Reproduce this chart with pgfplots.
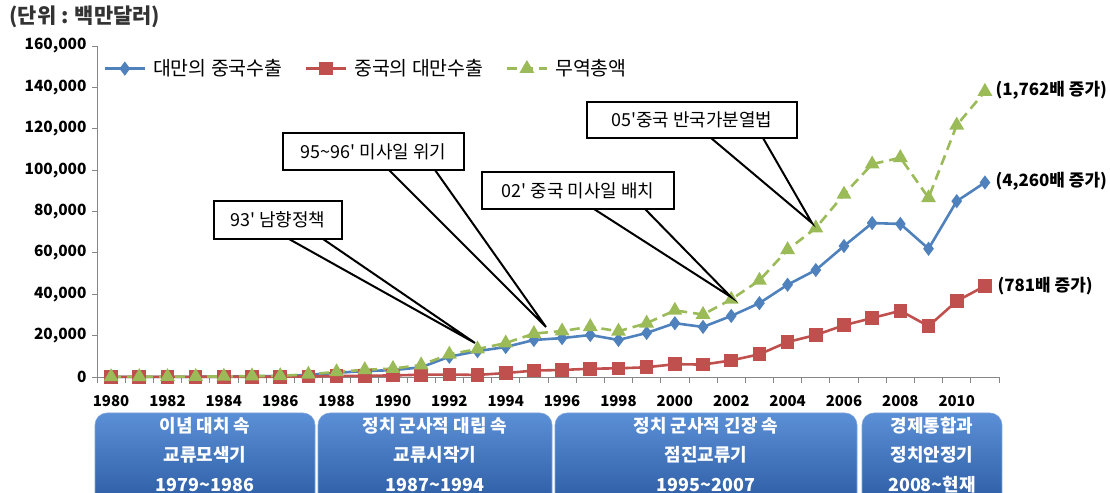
\documentclass[border=0pt]{standalone}
\usepackage{pgfplots}
\pgfplotsset{compat=1.18}
\usepackage{fontspec}
\setmainfont{Noto Sans CJK KR}[Ligatures=TeXOff]
\definecolor{cblue}{HTML}{4F81BD}
\definecolor{cred}{HTML}{C0504D}
\definecolor{cgreen}{HTML}{9BBB59}
\definecolor{axisgray}{HTML}{868686}
\definecolor{boxtop}{HTML}{5B8FD6}
\definecolor{boxbot}{HTML}{2A5AA2}
\begin{document}
\begin{tikzpicture}
\useasboundingbox (0bp,0bp) rectangle (1110bp,493bp);
% period boxes
\begin{scope}[x=1bp,y=1bp]
\clip (0,0) rectangle (1110,493);
\foreach \xa/\xb/\la/\lb/\lc in {95/315/{이념 대치 속}/{교류모색기}/{1979\string~1986},
  318/552/{정치 군사적 대립 속}/{교류시작기}/{1987\string~1994},
  555/857/{정치 군사적 긴장 속}/{점진교류기}/{1995\string~2007},
  862/1002/{경제통합과}/{정치안정기}/{2008\string~현재}}{
  \shade[top color=boxtop, bottom color=boxbot, rounded corners=12bp, draw=boxtop!80!white, line width=0.6bp] (\xa,-15) rectangle (\xb,80);
  \pgfmathsetmacro{\xc}{(\xa+\xb)/2}
  \node[text=white, font=\bfseries\fontsize{18}{18}\selectfont] at (\xc,67) {\la};
  \node[text=white, font=\bfseries\fontsize{18}{18}\selectfont] at (\xc,38) {\lb};
  \node[text=white, font=\bfseries\fontsize{18}{18}\selectfont] at (\xc,8) {\lc};
}
\end{scope}
\node[anchor=west, text=black!80, font=\bfseries\fontsize{21}{21}\selectfont] at (6bp,476bp) {(단위 : 백만달러)};
\begin{axis}[at={(97bp,116bp)}, anchor=south west, scale only axis,
  width=902bp, height=331bp,
  xmin=1979.5, xmax=2011.5, ymin=0, ymax=160000,
  scaled y ticks=false,
  axis lines=left, axis line style={-, draw=axisgray, line width=0.8bp},
  xtick={1980,1982,...,2010},
  xticklabels={1980,1982,1984,1986,1988,1990,1992,1994,1996,1998,2000,2002,2004,2006,2008,2010},
  major x tick style={draw=none},
  minor xtick={1979.5,1980.5,...,2011.5},
  minor tick length=6bp, major tick length=5bp,
  tick align=outside,
  tick style={axisgray, line width=0.8bp},
  ytick={0,20000,...,160000},
  yticklabels={0,{20,000},{40,000},{60,000},{80,000},{100,000},{120,000},{140,000},{160,000}},
  xticklabel style={font=\bfseries\fontsize{15}{15}\selectfont, yshift=-10bp},
  yticklabel style={font=\bfseries\fontsize{15.5}{15.5}\selectfont, xshift=-2bp},
  clip=false,
  legend columns=3,
  legend style={at={(0.007,0.965)}, anchor=north west, draw=none, fill=none,
    font=\fontsize{19.5}{19.5}\selectfont, inner sep=0pt,
    /tikz/every odd column/.append style={column sep=5bp},
    /tikz/every even column/.append style={column sep=20bp}},
  legend image code/.code={\draw[mark repeat=2,mark phase=2] plot coordinates {(0bp,0bp) (20bp,0bp) (40bp,0bp)};},
]
\addplot[color=cblue, line width=2.6bp, mark=diamond*, mark size=5bp, mark options={solid}] coordinates {
(1980,22) (1981,60) (1982,80) (1983,100) (1984,150) (1985,350) (1986,420) (1987,1000)
(1988,2000) (1989,2900) (1990,3300) (1991,4700) (1992,9800) (1993,12500) (1994,14500)
(1995,17900) (1996,18800) (1997,20300) (1998,17900) (1999,21300) (2000,26000) (2001,24200)
(2002,29500) (2003,35700) (2004,44600) (2005,51700) (2006,63300) (2007,74400) (2008,74000)
(2009,62000) (2010,85000) (2011,94000)};
\addlegendentry{대만의 중국수출}
\addplot[color=cred, line width=2.6bp, mark=square*, mark size=5.5bp, mark options={solid}] coordinates {
(1980,56) (1981,75) (1982,84) (1983,90) (1984,128) (1985,116) (1986,144) (1987,289)
(1988,479) (1989,587) (1990,765) (1991,1100) (1992,1200) (1993,1000) (1994,1900)
(1995,3100) (1996,3400) (1997,4000) (1998,4200) (1999,4700) (2000,6200) (2001,6000)
(2002,8000) (2003,11000) (2004,16900) (2005,20300) (2006,25000) (2007,28500) (2008,32000)
(2009,24600) (2010,36700) (2011,44000)};
\addlegendentry{중국의 대만수출}
\addplot[color=cgreen, line width=2.6bp, dash pattern=on 10bp off 6bp, mark=triangle*, mark size=6bp, mark options={solid}] coordinates {
(1980,78) (1981,135) (1982,164) (1983,190) (1984,278) (1985,466) (1986,564) (1987,1289)
(1988,2479) (1989,3487) (1990,4065) (1991,5800) (1992,11000) (1993,13500) (1994,16400)
(1995,21000) (1996,22200) (1997,24300) (1998,22100) (1999,26000) (2000,32200) (2001,30200)
(2002,37500) (2003,46700) (2004,61500) (2005,72000) (2006,88300) (2007,102900) (2008,106000)
(2009,86600) (2010,121700) (2011,138000)};
\addlegendentry{무역총액}
\end{axis}
\begin{scope}[x=1bp,y=1bp]
% end labels
\node[anchor=west, font=\bfseries\fontsize{17}{17}\selectfont] at (992,403) {(1,762배 증가)};
\node[anchor=west, font=\bfseries\fontsize{17}{17}\selectfont] at (992,312) {(4,260배 증가)};
\node[anchor=west, font=\bfseries\fontsize{17}{17}\selectfont] at (994,207) {(781배 증가)};
% callouts
\begin{scope}[line width=2bp, line join=miter]
\draw (289,254) -- (475,150) -- (323,254);
\draw[fill=white] (214,254) rectangle (342,292);
\node[font=\fontsize{18}{18}\selectfont] at (278,273) {93' 남향정책};
\draw (389,323) -- (546,166) -- (435,323);
\draw[fill=white] (283,323) rectangle (464,360);
\node[font=\fontsize{18}{18}\selectfont] at (373.5,341.5) {95\string~96' 미사일 위기};
\draw (594,284) -- (731,196) -- (645,284);
\draw[fill=white] (482,284) rectangle (674,321);
\node[font=\fontsize{18}{18}\selectfont] at (578,302.5) {02' 중국 미사일 배치};
\draw (711,355) -- (812,270) -- (763,355);
\draw[fill=white] (587,355) rectangle (797,391);
\node[font=\fontsize{18}{18}\selectfont] at (692,373) {05'중국 반국가분열법};
\end{scope}
\end{scope}
\end{tikzpicture}
\end{document}
